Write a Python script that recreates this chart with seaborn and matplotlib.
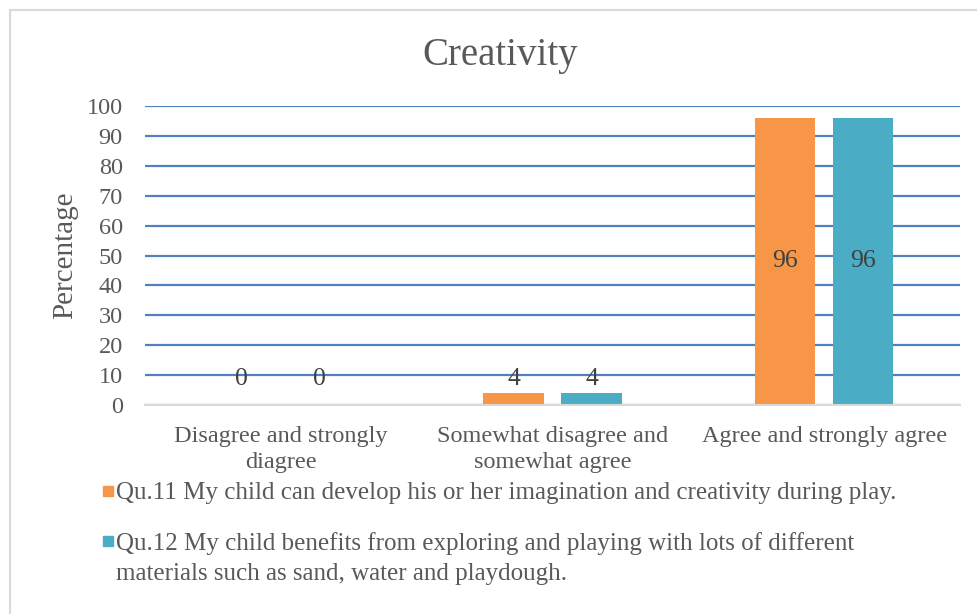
import pandas as pd
import matplotlib
matplotlib.use("Agg")
import matplotlib.pyplot as plt
import matplotlib.patches as mpatches
import seaborn as sns

# data
categories = ["Disagree and strongly\ndiagree",
              "Somewhat disagree and\nsomewhat agree",
              "Agree and strongly agree"]
qu11_values = [0, 4, 96]
qu12_values = [0, 4, 96]
series_names = ["Qu.11 My child can develop his or her imagination and creativity during play.",
                "Qu.12 My child benefits from exploring and playing with lots of different\nmaterials such as sand, water and playdough."]
colors = ["#F79646", "#4BACC6"]
y_ticks = list(range(0, 101, 10))

df = pd.DataFrame({
    "category": categories * 2,
    "value": qu11_values + qu12_values,
    "question": [series_names[0]] * 3 + [series_names[1]] * 3,
})

sns.set_style("white")
plt.rcParams["font.family"] = ["Liberation Serif", "DejaVu Serif"]
text_color = "#595959"

fig = plt.figure(figsize=(9.77, 6.14), dpi=100)
ax = fig.add_axes([145 / 977, 1 - 405 / 614, 815 / 977, 299 / 614])

sns.barplot(data=df, x="category", y="value", hue="question", palette=colors,
            width=0.574, gap=0.23, ax=ax, saturation=1, edgecolor="none")

ax.set_ylim(0, 100)
ax.set_yticks(y_ticks)
ax.yaxis.grid(True, color="#4F81BD", linewidth=1.6)
ax.set_axisbelow(True)
for side in ["top", "right", "left"]:
    ax.spines[side].set_visible(False)
ax.spines["bottom"].set_color("#D9D9D9")
ax.spines["bottom"].set_linewidth(1.5)
ax.tick_params(axis="both", length=0, labelsize=17.5, colors=text_color)
ax.tick_params(axis="y", pad=16)
ax.tick_params(axis="x", pad=15)
for lbl in ax.get_xticklabels():
    lbl.set_linespacing(1.35)
ax.set_xlabel("")
ax.set_ylabel("Percentage", fontsize=21, color=text_color, labelpad=6)

# value labels: centered in tall bars, just above short ones
for container in ax.containers:
    for bar in container:
        v = bar.get_height()
        xc = bar.get_x() + bar.get_width() / 2
        if v >= 50:
            ax.text(xc, v / 2, f"{v:g}", ha="center", va="center", fontsize=18.5, color="#404040")
        else:
            ax.text(xc, max(v, 4) + 1, f"{v:g}", ha="center", va="bottom", fontsize=18.5, color="#404040")

fig.text(500 / 977, 1 - 55 / 614, "Creativity", ha="center", va="center", fontsize=28, color=text_color)

# legend drawn by hand so the square sits on the first line of a wrapped entry
ax.legend_.remove()
legend_rows = [491, 541]
for name, c, row in zip(series_names, colors, legend_rows):
    fig.patches.append(mpatches.Rectangle((103 / 977, 1 - (row + 5) / 614), 10 / 977, 10 / 614,
                                          transform=fig.transFigure, color=c))
    fig.text(116 / 977, 1 - (row - 9) / 614, name, ha="left", va="top", fontsize=18,
             color=text_color, linespacing=1.5)

# light grey chart border
fig.patches.append(mpatches.Rectangle((10 / 977, -0.1), 1.2, 1 - 10 / 614 + 0.1,
                                      transform=fig.transFigure, fill=False,
                                      edgecolor="#D9D9D9", linewidth=1.5))

fig.savefig("out.png", dpi=100, facecolor="white")
